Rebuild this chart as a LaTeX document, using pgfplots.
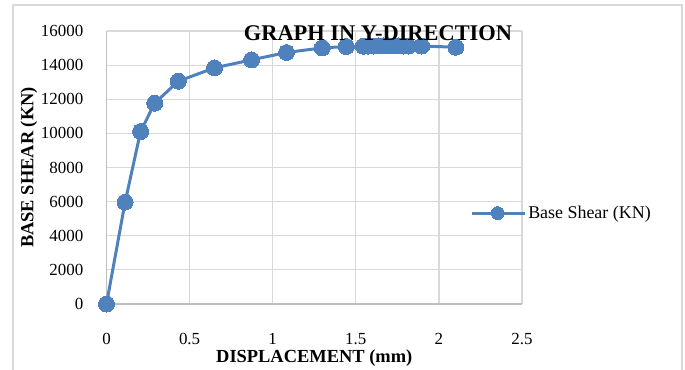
\documentclass[border=0pt]{standalone}
\usepackage{pgfplots}
\pgfplotsset{compat=1.18}
\usepackage{fontspec}
\setmainfont{Liberation Serif}
\definecolor{exblue}{RGB}{79,129,189}
\definecolor{gridc}{RGB}{217,217,217}
\definecolor{axc}{RGB}{191,191,191}
\begin{document}
\begin{tikzpicture}
\path[use as bounding box] (0,0) rectangle (685bp,-370bp);
\draw[gridc, line width=2bp] (13bp,-380bp) -- (13bp,-5bp) -- (682bp,-5bp) -- (682bp,-380bp);
\begin{axis}[
  at={(106.5bp,-304bp)}, anchor=origin,
  scale only axis, width=415.5bp, height=273bp,
  xmin=0, xmax=2.5, ymin=0, ymax=16000,
  xtick={0,0.5,1,1.5,2,2.5}, ytick={0,2000,...,16000},
  scaled ticks=false,
  /pgf/number format/assume math mode=true,
  /pgf/number format/1000 sep={},
  axis lines=left, axis line style={-, draw=axc, line width=1.2bp},
  grid=major, major grid style={draw=gridc, line width=1.2bp},
  major tick length=0pt,
  tick label style={font=\fontsize{17}{20}\selectfont},
  xticklabel style={anchor=base, yshift=-40bp},
  yticklabel style={anchor=east, inner sep=0pt, xshift=-23bp},
  every axis x label/.style={at={(axis description cs:0.5,0)}, anchor=base, yshift=-58bp, font=\bfseries\fontsize{18.5}{21}\selectfont},
  every axis y label/.style={at={(axis description cs:-0.1865,0.5)}, rotate=90, anchor=center, font=\bfseries\fontsize{18.5}{21}\selectfont},
  xlabel={DISPLACEMENT (mm)},
  ylabel={BASE SHEAR (KN)},
  legend style={draw=none, fill=none, at={(axis description cs:0.875,0.333)}, anchor=west, inner sep=0pt, font=\fontsize{18}{21}\selectfont, nodes={inner sep=2bp}},
  legend image code/.code={\draw[mark repeat=2, mark phase=2, #1, mark size=6.5bp] plot coordinates {(0bp,0bp) (26bp,0bp) (53bp,0bp)};},
  clip=false,
]
\addplot[color=exblue, line width=3bp, mark=*, mark size=8bp, mark options={fill=exblue, draw=exblue, line width=0pt}] coordinates {
(0,0)
(0.112,5970)
(0.205,10110)
(0.290,11770)
(0.432,13060)
(0.650,13840)
(0.873,14310)
(1.083,14740)
(1.298,15010)
(1.443,15090)
(1.545,15110)
(1.575,15115)
(1.605,15120)
(1.635,15125)
(1.665,15130)
(1.695,15130)
(1.725,15130)
(1.755,15125)
(1.785,15120)
(1.816,15120)
(1.896,15120)
(2.102,15050)
};
\addlegendentry{Base Shear (KN)}
\end{axis}
\node[font=\bfseries\fontsize{22.5}{25}\selectfont, anchor=base] at (378bp,-40bp) {GRAPH IN Y-DIRECTION};
\end{tikzpicture}
\end{document}
